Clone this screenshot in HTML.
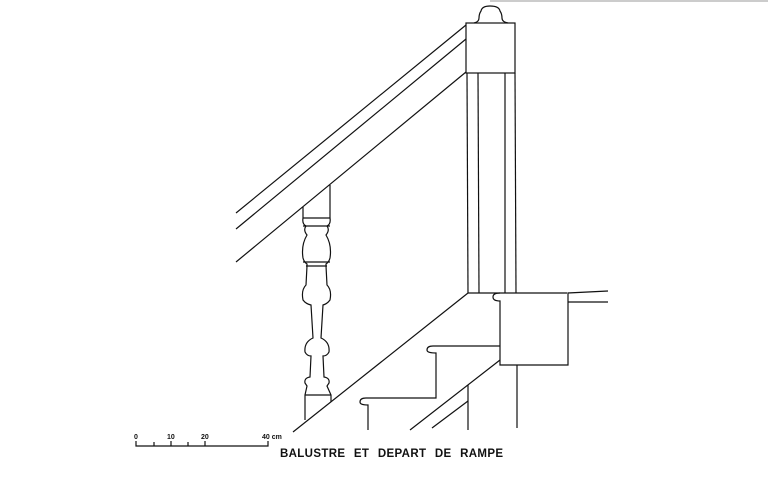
<!DOCTYPE html>
<html><head><meta charset="utf-8"><style>
html,body{margin:0;padding:0;background:#fff}
svg{display:block}
</style></head><body>
<svg width="768" height="488" viewBox="0 0 768 488" xmlns="http://www.w3.org/2000/svg">
<rect width="768" height="488" fill="#fff"/>
<rect x="490" y="0" width="278" height="2" fill="#ccc"/>
<g fill="none" stroke="#111" stroke-width="1.2">
<!-- rails -->
<line x1="236" y1="213" x2="466" y2="25"/>
<line x1="236" y1="229" x2="466" y2="39"/>
<line x1="236" y1="262" x2="466" y2="72"/>
<!-- post -->
<path d="M474 23 Q479 22 479 18 Q479 14 481 11 Q482 6 490 6 Q499 6 500 11 Q502 14 502 18 Q502 22 508 23"/>
<rect x="466" y="23" width="49" height="50"/>
<line x1="467" y1="73" x2="468" y2="293"/>
<line x1="478" y1="73" x2="479" y2="293"/>
<line x1="505" y1="73" x2="505" y2="293"/>
<line x1="515" y1="73" x2="516" y2="293"/>
<!-- baluster -->
<line x1="303" y1="207" x2="303" y2="218"/>
<line x1="330" y1="185" x2="330" y2="218"/>
<line x1="303" y1="218" x2="330" y2="218"/>
<path d="M303 218 Q302 224 306 226 Q303 230 307 235 Q301 245 303 258 Q304 262 307 264 L307 266 L306 285 Q301 290 303 300 Q306 304 311 305 L313 338 Q304 342 305 352 Q307 356 311 356 L310 377 Q304 378 305 383 L307 386 L305 395 L305 420"/>
<path d="M330 218 Q331 224 327 226 Q330 230 326 235 Q332 245 330 258 Q329 262 326 264 L326 266 L327 285 Q332 290 330 300 Q327 304 323 305 L321 338 Q330 342 329 352 Q327 356 323 356 L324 377 Q330 378 329 383 L327 386 L331 395 L331 402"/>
<line x1="303" y1="226" x2="330" y2="226"/>
<line x1="303" y1="262" x2="330" y2="262"/>
<line x1="306" y1="266" x2="327" y2="266"/>
<line x1="305" y1="395" x2="331" y2="395"/>
<!-- stair -->
<line x1="293" y1="432" x2="468" y2="293"/>
<line x1="468" y1="293" x2="567" y2="293"/>
<path d="M500 293 Q493 293 493 297 Q493 301 500 301 L500 365 L568 365 L568 293 L608 291"/>
<line x1="568" y1="302" x2="608" y2="302"/>
<line x1="517" y1="365" x2="517" y2="428"/>
<path d="M500 346 L433 346 Q427 346 427 350 Q427 353 436 353 L436 398 L366 398 Q360 398 360 402 Q360 405 368 405 L368 430"/>
<line x1="410" y1="430" x2="500" y2="360"/>
<line x1="432" y1="428" x2="468" y2="401"/>
<line x1="468" y1="385" x2="468" y2="430"/>
<!-- scale -->
<polyline points="136,441 136,446 268,446 268,441"/>
<line x1="154" y1="442" x2="154" y2="446"/>
<line x1="171" y1="441" x2="171" y2="446"/>
<line x1="188" y1="442" x2="188" y2="446"/>
<line x1="205" y1="441" x2="205" y2="446"/>
</g>
<g font-family="Liberation Sans, sans-serif" font-weight="bold" fill="#111">
<text x="134" y="439" font-size="7">0</text>
<text x="167" y="439" font-size="7">10</text>
<text x="201" y="439" font-size="7">20</text>
<text x="262" y="439" font-size="7">40 cm</text>
<text x="280" y="457" font-size="11.5" word-spacing="5" textLength="223" lengthAdjust="spacing">BALUSTRE ET DEPART DE RAMPE</text>
</g>
</svg>
</body></html>
